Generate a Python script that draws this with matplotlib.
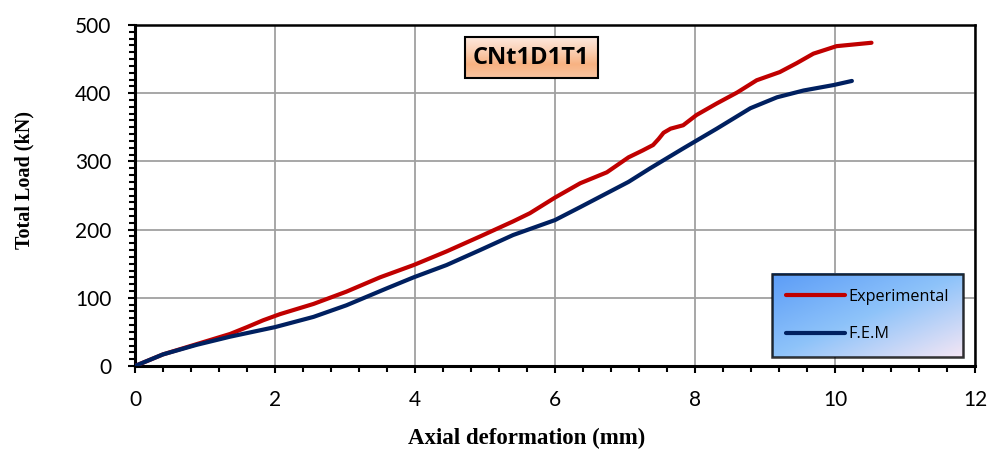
import numpy as np
import matplotlib
matplotlib.use("Agg")
import matplotlib.pyplot as plt
from matplotlib.ticker import MultipleLocator
from matplotlib.colors import LinearSegmentedColormap

# Experimental curve (mm, kN)
exp_x = [0, 0.40, 0.88, 1.36, 1.60, 1.83, 2.07, 2.55, 3.02, 3.50, 3.98, 4.45,
         4.93, 5.40, 5.64, 6.00, 6.36, 6.74, 7.05, 7.25, 7.40, 7.48, 7.55,
         7.65, 7.83, 8.02, 8.31, 8.60, 8.88, 9.21, 9.45, 9.69, 10.02, 10.52]
exp_y = [0, 17, 32, 47, 57, 67, 76, 91, 109, 130, 148, 168,
         190, 212, 224, 247, 268, 284, 306, 316, 324, 333, 342,
         348, 353, 368, 385, 401, 419, 431, 444, 458, 469, 474]

# F.E.M curve
fem_x = [0, 0.40, 0.88, 1.36, 2.00, 2.55, 3.02, 3.60, 3.98, 4.45, 4.93, 5.40,
         6.00, 6.36, 7.05, 7.36, 7.83, 8.31, 8.79, 9.17, 9.55, 9.98, 10.24]
fem_y = [0, 17, 31, 43, 57, 72, 89, 114, 130, 148, 170, 192,
         214, 233, 270, 290, 319, 348, 378, 394, 404, 412, 418]

fig = plt.figure(figsize=(9.94, 4.5), dpi=100)
ax = fig.add_axes([0.1358, 0.1867, 0.8452, 0.7577])

ax.plot(exp_x, exp_y, color="#C00000", lw=3, label="Experimental", zorder=3,
        solid_capstyle="round", solid_joinstyle="round")
ax.plot(fem_x, fem_y, color="#002060", lw=3, label="F.E.M", zorder=3,
        solid_capstyle="round", solid_joinstyle="round")

ax.xaxis.set_major_locator(MultipleLocator(2))
ax.xaxis.set_minor_locator(MultipleLocator(0.4))
ax.yaxis.set_major_locator(MultipleLocator(100))
ax.yaxis.set_minor_locator(MultipleLocator(10))
ax.grid(True, which="major", color="#a0a0a0", lw=1.3)
ax.set_axisbelow(True)
ax.tick_params(which="major", direction="out", length=5, width=1.5,
               labelsize=15, pad=12)
ax.tick_params(which="minor", direction="out", length=4, width=1.5)
for lab in ax.get_xticklabels() + ax.get_yticklabels():
    lab.set_family("Lato")
for s in ax.spines.values():
    s.set_color("black")
    s.set_linewidth(1.8)
ax.spines["left"].set_linewidth(2.2)
ax.spines["bottom"].set_linewidth(2.2)

ax.set_xlabel("Axial deformation (mm)", family="Liberation Serif",
              fontweight="bold", fontsize=16.5, labelpad=13)
ax.xaxis.label.set_x(0.466)
ax.set_ylabel("Total Load (kN)", family="Liberation Serif",
              fontweight="bold", fontsize=14.5, labelpad=29)
ax.yaxis.label.set_y(0.545)

title = ax.text(5.66, 452, "CNt1D1T1", ha="center", va="center", fontsize=17,
                fontweight="bold", family="Open Sans", zorder=6,
                bbox=dict(boxstyle="square,pad=0.35", fc="none", ec="black",
                          lw=1.5))

leg = ax.legend(loc="lower right", bbox_to_anchor=(0.9857, 0.026),
                borderaxespad=0, frameon=True, fancybox=False,
                edgecolor="black", handlelength=3.6, handletextpad=0.2,
                labelspacing=1.35, borderpad=0.9,
                prop={"family": "Open Sans", "size": 11.7})
leg.get_frame().set_linewidth(1.8)
leg.get_frame().set_facecolor("none")
leg.set_zorder(7)

ax.set_xlim(0, 12)
ax.set_ylim(0, 500)

# gradient fills behind legend and title box
fig.canvas.draw()
inv = ax.transAxes.inverted()

lb = leg.get_frame().get_window_extent().transformed(inv)
cmap_leg = LinearSegmentedColormap.from_list("leg", ["#5b9cf7", "#8ec3fa", "#f4e6f4"])
gx, gy = np.meshgrid(np.linspace(0, 1, 200), np.linspace(0, 1, 100))
ax.imshow((gx + gy) / 2, cmap=cmap_leg, aspect="auto", origin="upper",
          extent=[lb.x0, lb.x1, lb.y0, lb.y1], transform=ax.transAxes,
          zorder=5, interpolation="bilinear")

tb = title.get_bbox_patch().get_window_extent().transformed(inv)
cmap_t = LinearSegmentedColormap.from_list("t", ["#fde8de", "#fbd0b4", "#f7b282", "#f9c4a0"])
ax.imshow(np.linspace(0, 1, 100).reshape(-1, 1), cmap=cmap_t, aspect="auto",
          origin="upper", extent=[tb.x0, tb.x1, tb.y0, tb.y1],
          transform=ax.transAxes, zorder=5, interpolation="bilinear")

ax.set_xlim(0, 12)
ax.set_ylim(0, 500)

fig.savefig("out.png", dpi=100, facecolor="white")
